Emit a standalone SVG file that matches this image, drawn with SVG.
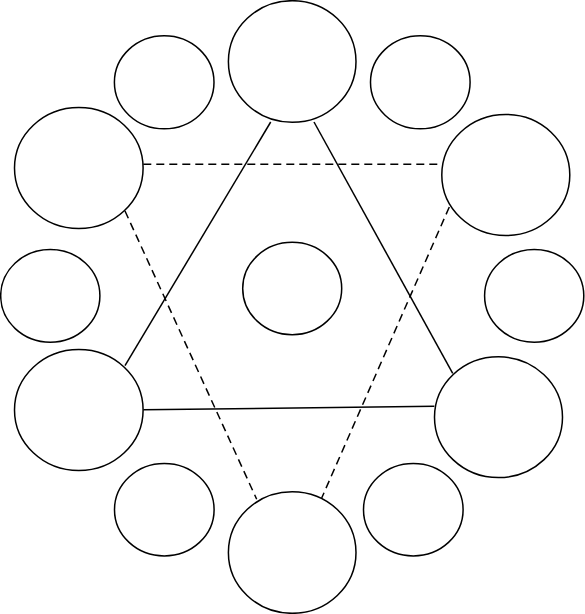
<svg xmlns="http://www.w3.org/2000/svg" width="585" height="614" viewBox="0 0 585 614">
<style>
ellipse{fill:#fff;stroke:#000;stroke-width:1.5}
line{stroke:#000;stroke-width:1.5}
.d{stroke-dasharray:8 5}
</style>
<rect width="585" height="614" fill="#fff"/>
<g id="connectors">
<line x1="270.7" y1="122" x2="125" y2="365.7"/>
<line x1="314" y1="122" x2="452.7" y2="373.3"/>
<line x1="143.3" y1="409.7" x2="434.3" y2="406.3"/>
<line class="d" x1="143.3" y1="164.3" x2="441.7" y2="164.3"/>
<line class="d" x1="125" y1="211" x2="256.7" y2="499.3"/>
<line class="d" x1="449.3" y1="207" x2="321.7" y2="498"/>
</g>
<g id="n-top"><ellipse cx="292.2" cy="61.5" rx="63.8" ry="60.8"/></g>
<g id="n-topleft-small"><ellipse cx="164.2" cy="82.3" rx="49.8" ry="46.5"/></g>
<g id="n-topright-small"><ellipse cx="420.3" cy="82.3" rx="49.8" ry="46.5"/></g>
<g id="n-left-upper"><ellipse cx="78.8" cy="168" rx="64.3" ry="60.5"/></g>
<g id="n-right-upper"><ellipse cx="505.8" cy="175" rx="64" ry="60.5"/></g>
<g id="n-center"><ellipse cx="292.2" cy="288.5" rx="49.5" ry="46.2"/></g>
<g id="n-left-small"><ellipse cx="50.3" cy="295.8" rx="49.6" ry="46.4"/></g>
<g id="n-right-small"><ellipse cx="534.2" cy="295.8" rx="49.6" ry="46.4"/></g>
<g id="n-left-lower"><ellipse cx="78.8" cy="410" rx="64.3" ry="60.5"/></g>
<g id="n-right-lower"><ellipse cx="498.5" cy="417.2" rx="64" ry="60.4"/></g>
<g id="n-bottomleft-small"><ellipse cx="164.3" cy="509.7" rx="49.8" ry="46.2"/></g>
<g id="n-bottomright-small"><ellipse cx="413.3" cy="509.7" rx="49.8" ry="46.2"/></g>
<g id="n-bottom"><ellipse cx="292.2" cy="552.5" rx="63.8" ry="60.8"/></g>
</svg>
